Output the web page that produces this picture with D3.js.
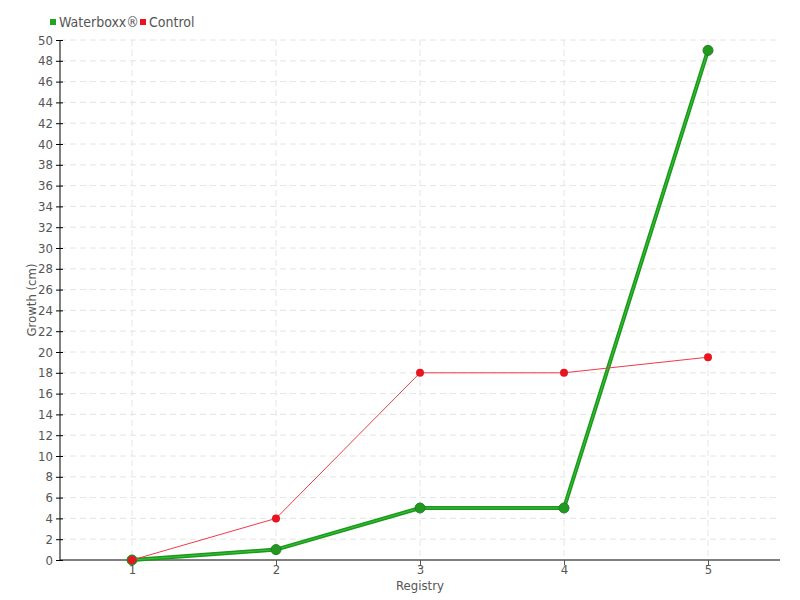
<!DOCTYPE html>
<html>
<head>
<meta charset="utf-8">
<script src="https://cdn.jsdelivr.net/npm/d3@7"></script>
<style>
  body { margin: 0; background: #fff; }
  svg text { font-family: "DejaVu Sans Condensed", "Liberation Sans Narrow", sans-serif; fill: #555; }
</style>
</head>
<body>
<div id="chart"></div>
<script>
// data
const registry = [1, 2, 3, 4, 5];
const waterboxx = [0, 1, 5, 5, 49];
const control = [0, 4, 18, 18, 19.5];
const yTicks = d3.range(0, 51, 2);

const width = 800, height = 600;
const margin = {top: 40, right: 20, bottom: 40, left: 60};

const svg = d3.select("#chart").append("svg")
  .attr("width", width)
  .attr("height", height);

const x = d3.scaleLinear().domain([0.5, 5.5]).range([margin.left, width - margin.right]);
const y = d3.scaleLinear().domain([0, 50]).range([height - margin.bottom, margin.top]);

// grid
svg.append("g").selectAll("line")
  .data(yTicks.filter(d => d > 0))
  .enter().append("line")
  .attr("x1", margin.left).attr("x2", width - margin.right)
  .attr("y1", d => y(d)).attr("y2", d => y(d))
  .attr("stroke", "#e4e4e4").attr("stroke-dasharray", "6,4");

svg.append("g").selectAll("line")
  .data(registry)
  .enter().append("line")
  .attr("x1", d => x(d)).attr("x2", d => x(d))
  .attr("y1", margin.top).attr("y2", height - margin.bottom)
  .attr("stroke", "#e4e4e4").attr("stroke-dasharray", "6,4");

// axes
const yAxis = svg.append("g")
  .attr("transform", `translate(${margin.left},0)`)
  .call(d3.axisLeft(y).tickValues(yTicks).tickSize(4).tickPadding(3));
yAxis.selectAll(".tick line").attr("x2", 3).attr("x1", -4).attr("stroke", "#000");
yAxis.select(".domain").attr("stroke", "#000").attr("d", `M0,${y(0)}V${y(50)}`);

const xAxis = svg.append("g")
  .attr("transform", `translate(0,${height - margin.bottom})`)
  .call(d3.axisBottom(x).tickValues(registry).tickFormat(d3.format("d")).tickSize(5).tickPadding(0));
xAxis.select(".domain").attr("stroke", "#000").attr("d", `M${margin.left},0H${width - margin.right}`);
xAxis.selectAll(".tick line").attr("stroke", "#555");

svg.selectAll(".tick text").style("font-size", "13px").attr("fill", "#555");

// axis titles
svg.append("text")
  .attr("x", x(3)).attr("y", 590)
  .attr("text-anchor", "middle")
  .style("font-size", "13px")
  .text("Registry");

svg.append("text")
  .attr("transform", `translate(36,${y(25)}) rotate(-90)`)
  .attr("text-anchor", "middle")
  .style("font-size", "13px")
  .text("Growth (cm)");

const line = d3.line().x((d, i) => x(registry[i])).y(d => y(d));

// Waterboxx series
svg.append("path").datum(waterboxx)
  .attr("d", line).attr("fill", "none")
  .attr("stroke", "#1a9a1a").attr("stroke-width", 4);
svg.append("path").datum(waterboxx)
  .attr("d", line).attr("fill", "none")
  .attr("stroke", "#3cbf3c").attr("stroke-width", 1);
svg.append("g").selectAll("circle")
  .data(waterboxx).enter().append("circle")
  .attr("cx", (d, i) => x(registry[i])).attr("cy", d => y(d))
  .attr("r", 5).attr("fill", "#1f9a1f").attr("stroke", "#2a7a2a").attr("stroke-width", 1);

// Control series
svg.append("path").datum(control)
  .attr("d", line).attr("fill", "none")
  .attr("stroke", "#f0394a").attr("stroke-width", 1);
svg.append("g").selectAll("circle")
  .data(control).enter().append("circle")
  .attr("cx", (d, i) => x(registry[i])).attr("cy", d => y(d))
  .attr("r", 4).attr("fill", "#e8141f");

// legend
const legend = [{name: "Waterboxx®", color: "#1fa51f", x: 50}, {name: "Control", color: "#e8141f", x: 140}];
const lg = svg.append("g").selectAll("g").data(legend).enter().append("g");
lg.append("rect").attr("x", d => d.x).attr("y", 19).attr("width", 6).attr("height", 6).attr("fill", d => d.color);
lg.append("text").attr("x", d => d.x + 9).attr("y", 27).style("font-size", "14px").text(d => d.name);
</script>
</body>
</html>
